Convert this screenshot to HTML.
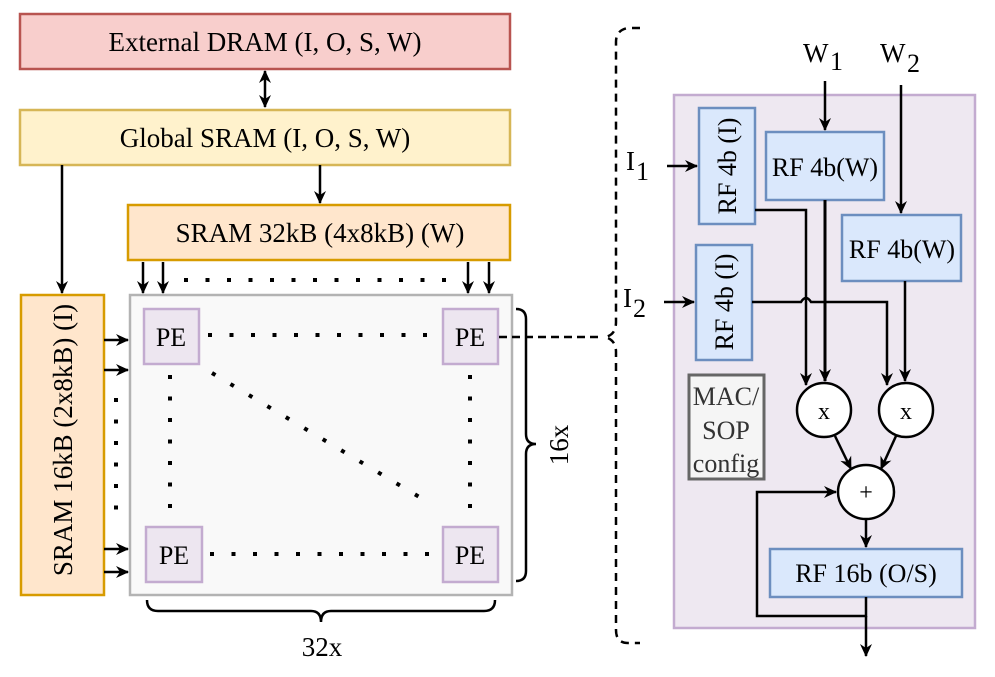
<!DOCTYPE html>
<html><head><meta charset="utf-8"><style>
html,body{margin:0;padding:0;background:#fff;}
svg{display:block;}
text{font-family:"Liberation Serif",serif;fill:#000;}
</style></head><body>
<svg width="995" height="677" viewBox="0 0 995 677" xmlns="http://www.w3.org/2000/svg">
<defs>
<marker id="a" markerWidth="14" markerHeight="14" refX="12" refY="7" orient="auto" markerUnits="userSpaceOnUse">
<path d="M0,1 L13,7 L0,13 L4,7 Z" fill="#000"/></marker>
<marker id="as" markerWidth="14" markerHeight="14" refX="2" refY="7" orient="auto" markerUnits="userSpaceOnUse">
<path d="M14,1 L1,7 L14,13 L10,7 Z" fill="#000"/></marker>
</defs>
<g stroke-width="2.5">
<rect x="20" y="14" width="490" height="55" fill="#f8cecc" stroke="#b85450"/>
<text x="265" y="51" font-size="27" text-anchor="middle">External DRAM (I, O, S, W)</text>
<rect x="20" y="110" width="490" height="55" fill="#fff2cc" stroke="#d6b656"/>
<text x="265" y="147" font-size="27" text-anchor="middle">Global SRAM (I, O, S, W)</text>
<rect x="128" y="205" width="382" height="55" fill="#ffe6cc" stroke="#d79b00"/>
<text x="320" y="242" font-size="27" text-anchor="middle">SRAM 32kB (4x8kB) (W)</text>
<rect x="21" y="295" width="83" height="300" fill="#ffe6cc" stroke="#d79b00"/>
<text transform="translate(72,440) rotate(-90)" font-size="27" text-anchor="middle">SRAM 16kB  (2x8kB) (I)</text>
<line x1="265" y1="71" x2="265" y2="107" stroke="#000" marker-start="url(#as)" marker-end="url(#a)"/>
<line x1="320" y1="165" x2="320" y2="203" stroke="#000" marker-end="url(#a)"/>
<line x1="62" y1="165" x2="62" y2="293" stroke="#000" marker-end="url(#a)"/>
<rect x="130" y="295" width="382" height="300" fill="#f9f9f9" stroke="#b3b3b3"/>
<g stroke="#000">
<line x1="143" y1="262" x2="143" y2="293" marker-end="url(#a)"/>
<line x1="163" y1="262" x2="163" y2="293" marker-end="url(#a)"/>
<line x1="468" y1="262" x2="468" y2="293" marker-end="url(#a)"/>
<line x1="489" y1="262" x2="489" y2="293" marker-end="url(#a)"/>
<line x1="104" y1="340" x2="128" y2="340" marker-end="url(#a)"/>
<line x1="104" y1="370" x2="128" y2="370" marker-end="url(#a)"/>
<line x1="104" y1="549" x2="128" y2="549" marker-end="url(#a)"/>
<line x1="104" y1="572" x2="128" y2="572" marker-end="url(#a)"/>
</g>
<g stroke="#000" stroke-width="4" stroke-dasharray="4 17.5" fill="none">
<line x1="184" y1="280" x2="450" y2="280"/>
<line x1="116" y1="398" x2="116" y2="512"/>
<line x1="208" y1="335" x2="436" y2="335"/>
<line x1="210" y1="554" x2="436" y2="554"/>
<line x1="170" y1="375" x2="170" y2="512"/>
<line x1="470" y1="375" x2="470" y2="512"/>
<line x1="212" y1="373" x2="421" y2="498"/>
</g>
<g fill="#ede6f0" stroke="#c3abd0">
<rect x="144" y="309" width="55" height="55"/>
<rect x="443" y="309" width="55" height="55"/>
<rect x="146" y="527" width="56" height="55"/>
<rect x="443" y="527" width="55" height="55"/>
</g>
<g font-size="26" text-anchor="middle">
<text x="171" y="346">PE</text><text x="470" y="346">PE</text>
<text x="174" y="564">PE</text><text x="470" y="564">PE</text>
</g>
<path d="M516,309 Q526,309 526,319 L526,434 Q526,444 536,444 Q526,444 526,454 L526,571 Q526,581 516,581" fill="none" stroke="#000"/>
<text transform="translate(568,445) rotate(-90)" font-size="27" text-anchor="middle">16x</text>
<path d="M147,600 Q147,611 158,611 L311,611 Q321,611 321,622 Q321,611 331,611 L484,611 Q495,611 495,600" fill="none" stroke="#000"/>
<text x="322" y="656" font-size="27" text-anchor="middle">32x</text>
<line x1="499" y1="337" x2="600" y2="337" stroke="#000" stroke-dasharray="8 5"/>
<path d="M640,28 L628,28 Q616,30 616,42 L616,322 Q616,335 605,337 Q616,340 616,352 L616,630 Q616,643 628,643 L640,643" fill="none" stroke="#000" stroke-dasharray="8 6"/>
<rect x="674" y="95" width="301" height="533" fill="#eee8f1" stroke="#c3abd0"/>
<text x="803" y="62" font-size="27">W</text><text x="830" y="70" font-size="26">1</text>
<text x="880" y="62" font-size="27">W</text><text x="907" y="72" font-size="26">2</text>
<text x="626" y="170" font-size="27">I</text><text x="636" y="180" font-size="26">1</text>
<text x="623" y="307" font-size="27">I</text><text x="633" y="317" font-size="26">2</text>
<g fill="#dae8fc" stroke="#6c8ebf">
<rect x="766" y="132" width="118" height="68"/>
<rect x="842" y="215" width="119" height="66"/>
<rect x="699" y="108" width="56" height="116"/>
<rect x="696" y="245" width="56" height="115"/>
<rect x="770" y="549" width="192" height="48"/>
</g>
<text x="825" y="176" font-size="26" text-anchor="middle">RF 4b(W)</text>
<text x="902" y="258" font-size="26" text-anchor="middle">RF 4b(W)</text>
<text transform="translate(736,166) rotate(-90)" font-size="26" text-anchor="middle">RF 4b (I)</text>
<text transform="translate(733,302) rotate(-90)" font-size="26" text-anchor="middle">RF 4b (I)</text>
<text x="866" y="582" font-size="26" text-anchor="middle">RF 16b (O/S)</text>
<rect x="689" y="375" width="75" height="104" fill="#f5f5f5" stroke="#666" stroke-width="3"/>
<text x="726" y="405" font-size="26" text-anchor="middle" style="fill:#333">MAC/</text>
<text x="726" y="439" font-size="26" text-anchor="middle" style="fill:#333">SOP</text>
<text x="726" y="472" font-size="26" text-anchor="middle" style="fill:#333">config</text>
<g fill="#fff" stroke="#000">
<ellipse cx="824" cy="410" rx="27" ry="27"/>
<ellipse cx="906" cy="410" rx="27" ry="27"/>
<ellipse cx="866" cy="492" rx="28" ry="27"/>
</g>
<text x="824" y="419" font-size="24" text-anchor="middle">x</text>
<text x="906" y="419" font-size="24" text-anchor="middle">x</text>
<text x="866" y="500" font-size="24" text-anchor="middle">+</text>
<g stroke="#000" fill="none">
<line x1="825" y1="81" x2="825" y2="130" marker-end="url(#a)"/>
<line x1="901" y1="85" x2="901" y2="213" marker-end="url(#a)"/>
<line x1="667" y1="166" x2="697" y2="166" marker-end="url(#a)"/>
<line x1="664" y1="302" x2="694" y2="302" marker-end="url(#a)"/>
<polyline points="755,210 806,210 806,385" marker-end="url(#a)"/>
<line x1="825" y1="200" x2="825" y2="381" stroke-width="3" marker-end="url(#a)"/>
<path d="M752,302 L801,302 Q806,294 811,302 L887,302 L887,385" marker-end="url(#a)"/>
<line x1="905" y1="281" x2="905" y2="381" marker-end="url(#a)"/>
<line x1="835" y1="436" x2="851" y2="469" marker-end="url(#a)"/>
<line x1="896" y1="436" x2="881" y2="469" marker-end="url(#a)"/>
<line x1="866" y1="519" x2="866" y2="547" marker-end="url(#a)"/>
<polyline points="866,597 866,616 757,616 757,492 836,492" marker-end="url(#a)"/>
<line x1="866" y1="616" x2="866" y2="656" marker-end="url(#a)"/>
</g>
</g>
</svg>
</body></html>
